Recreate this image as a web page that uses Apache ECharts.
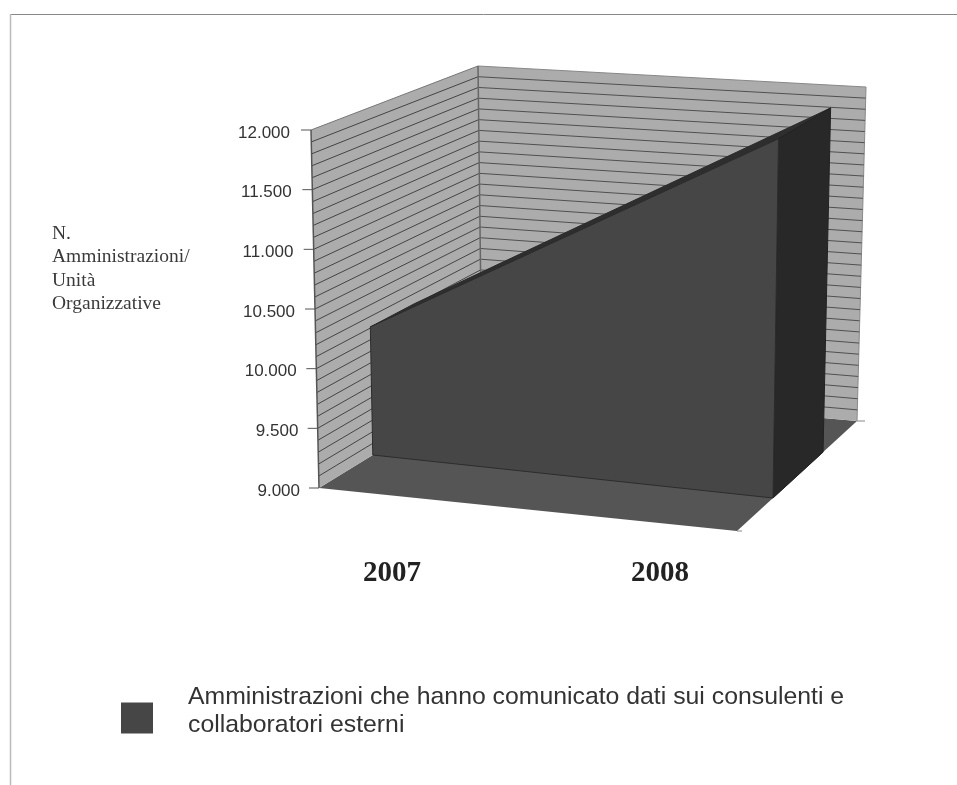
<!DOCTYPE html>
<html><head><meta charset="utf-8">
<script src="https://cdn.jsdelivr.net/npm/echarts@6/dist/echarts.min.js"></script>
<style>html,body{margin:0;padding:0;background:#fff}#c{width:957px;height:785px;filter:blur(.5px)}</style>
</head><body><div id="c"></div>
<script>
const categories = ['2007', '2008'];
const seriesName = 'Amministrazioni che hanno comunicato dati sui consulenti e\ncollaboratori esterni';
const values = [10110, 12000];
const yTicks = [9000, 9500, 10000, 10500, 11000, 11500, 12000];
const yTickLabels = ['9.000', '9.500', '10.000', '10.500', '11.000', '11.500', '12.000'];
const minorGridValues = [9100,9200,9300,9400,9500,9600,9700,9800,9900,10000,10100,10200,10300,10400,10500,10600,10700,10800,10900,11000,11100,11200,11300,11400,11500,11600,11700,11800,11900];

// pseudo-3D box: screen corners of the plot cube
const box = {
  bottom: { fl: [319, 488], fr: [737, 531], bl: [482, 388], br: [857, 421] },
  top:    { fl: [311, 130], fr: [741, 161], bl: [478, 66],  br: [866, 87] }
};
const lerp = (a, b, t) => a + (b - a) * t;
const lerp2 = (p, q, t) => [lerp(p[0], q[0], t), lerp(p[1], q[1], t)];
function plane(c, u, w) { return lerp2(lerp2(c.fl, c.fr, u), lerp2(c.bl, c.br, u), w); }
function proj(u, w, f) { return lerp2(plane(box.bottom, u, w), plane(box.top, u, w), f); }
// value -> fraction of the axis, through the library's own scale
function frac(params, api, v) {
  const cs = params.coordSys;
  return (cs.y + cs.height - api.coord([0, v])[1]) / cs.height;
}
// category -> position across the box
function across(params, api, i) {
  const cs = params.coordSys;
  return ((api.coord([i, 9000])[0] - cs.x) / cs.width - 0.25) / 0.5;
}
const wFront = u => lerp(0.33, 0.30, u);
const wBack = u => lerp(0.60, 0.717, u);
const poly = (points, fill, stroke, lw) => ({
  type: 'polygon', shape: { points },
  style: { fill, stroke: stroke || null, lineWidth: lw || 0 }
});
const line = (a, b, stroke, lw) => ({
  type: 'line', shape: { x1: a[0], y1: a[1], x2: b[0], y2: b[1] },
  style: { stroke, lineWidth: lw }
});

const option = {
  animation: false,
  backgroundColor: '#fff',
  title: {
    text: 'N.\nAmministrazioni/\nUnità\nOrganizzative',
    left: 47, top: 217,
    textStyle: { fontFamily: 'Liberation Serif', fontSize: 19.5, fontWeight: 'normal', color: '#3a3a3a', lineHeight: 23.5 }
  },
  legend: {
    data: [seriesName],
    left: 116, top: 678,
    icon: 'rect', itemWidth: 32, itemHeight: 31,
    selectedMode: false,
    formatter: name => name + '\n{s| }',
    textStyle: {
      fontFamily: 'Liberation Sans', fontSize: 24.8, color: '#333', lineHeight: 28,
      padding: [0, 0, 0, 30],
      rich: { s: { fontSize: 1, lineHeight: 14 } }
    }
  },
  grid: { left: 258, width: 536, top: 130, height: 358, containLabel: false },
  xAxis: {
    type: 'category', data: categories, boundaryGap: true,
    axisLine: { show: false }, axisTick: { show: false }, splitLine: { show: false },
    axisLabel: { margin: 71, fontFamily: 'Liberation Serif', fontWeight: 'bold', fontSize: 29, color: '#222' }
  },
  yAxis: {
    type: 'value', min: 9000, max: 12000, interval: 500,
    offset: -61,
    axisLine: { show: false }, axisTick: { show: false }, splitLine: { show: false },
    axisLabel: {
      margin: 19,
      formatter: v => `{t${v}|${yTickLabels[yTicks.indexOf(v)]}}`,
      rich: Object.fromEntries(yTicks.map((t, i) => ['t' + t, {
        fontFamily: 'Liberation Sans', fontSize: 17, color: '#333',
        padding: [6, i * 10 / 6, 0, 0]
      }]))
    }
  },
  series: [
    { // floor and walls
      name: 'walls', type: 'custom', silent: true, clip: false, z: 1,
      data: [[0, 9000]], encode: { x: 0, y: 1 },
      renderItem(params, api) {
        const t = 1;
        return { type: 'group', children: [
          poly([proj(0,0,0), proj(0,1,0), proj(1,1,0), proj(1,0,0)], '#555555'),
          poly([proj(0,0,0), proj(0,1,0), proj(0,1,t), proj(0,0,t)], '#acacac'),
          poly([proj(0,1,0), proj(1,1,0), proj(1,1,t), proj(0,1,t)], '#acacac'),
          line(proj(0,0,t), proj(0,1,t), '#777', 1),
          line(proj(0,1,t), proj(1,1,t), '#888', 1),
          line(proj(1,1,0), proj(1,1,t), '#8a8a8a', 1)
        ]};
      }
    },
    { // minor gridlines on both walls
      name: 'gridlines', type: 'custom', silent: true, clip: false, z: 2,
      data: minorGridValues.map(v => [0, v]), encode: { x: 0, y: 1 },
      renderItem(params, api) {
        const f = frac(params, api, api.value(1));
        return { type: 'group', children: [
          line(proj(0,0,f), proj(0,1,f), '#444', 1),
          line(proj(0,1,f), proj(1,1,f), '#505050', 1)
        ]};
      }
    },
    { // wall edges and axis ticks
      name: 'ticks', type: 'custom', silent: true, clip: false, z: 3,
      data: yTicks.map(v => [0, v]), encode: { x: 0, y: 1 },
      renderItem(params, api) {
        const f = frac(params, api, api.value(1));
        const p = proj(0,0,f);
        const kids = [line([p[0] - 10, p[1]], p, '#555', 1)];
        if (params.dataIndex === 0) {
          kids.push(line(proj(0,0,0), proj(0,0,1), '#555', 1.5));
          kids.push(line(proj(0,1,0), proj(0,1,1), '#666', 1.5));
          kids.push(line(proj(1,0,0), [proj(1,0,0)[0] + 5, proj(1,0,0)[1]], '#888', 1));
          kids.push(line(proj(1,1,0), [proj(1,1,0)[0] + 8, proj(1,1,0)[1]], '#888', 1));
        }
        return { type: 'group', children: kids };
      }
    },
    { // the area, extruded in depth
      name: seriesName, type: 'custom', clip: false, z: 4,
      itemStyle: { color: '#464646' },
      data: values.map((v, i) => [i, v]), encode: { x: 0, y: 1 },
      renderItem(params, api) {
        const i = params.dataIndex;
        if (i >= values.length - 1) return null;
        const u0 = across(params, api, i), u1 = across(params, api, i + 1);
        const f0 = frac(params, api, values[i]), f1 = frac(params, api, values[i + 1]);
        const wf0 = wFront(u0), wf1 = wFront(u1), wb0 = wBack(u0), wb1 = wBack(u1);
        return { type: 'group', children: [
          poly([proj(u0,wf0,f0), proj(u1,wf1,f1), proj(u1,wb1,f1), proj(u0,wb0,f0)], '#2e2e2e', '#2a2a2a', 1),
          poly([proj(u1,wf1,0), proj(u1,wb1,0), proj(u1,wb1,f1), proj(u1,wf1,f1)], '#282828', '#222', 1),
          poly([proj(u0,wf0,0), proj(u1,wf1,0), proj(u1,wf1,f1), proj(u0,wf0,f0)], '#464646', '#2c2c2c', 1)
        ]};
      }
    }
  ],
  graphic: [
    { type: 'line', silent: true, shape: { x1: 10, y1: 14.5, x2: 957, y2: 14.5 }, style: { stroke: '#888', lineWidth: 1 } },
    { type: 'line', silent: true, shape: { x1: 10.5, y1: 14, x2: 10.5, y2: 785 }, style: { stroke: '#bbb', lineWidth: 1.5 } }
  ]
};
echarts.init(document.getElementById('c'), null, { renderer: 'canvas' }).setOption(option);
</script></body></html>
